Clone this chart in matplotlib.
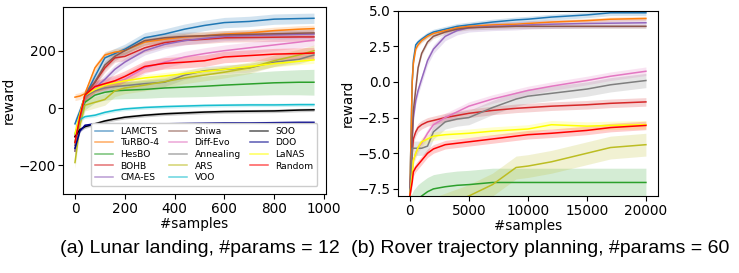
import matplotlib
matplotlib.use("Agg")
import matplotlib.pyplot as plt
import numpy as np

# ---------------- Panel (a): Lunar landing ----------------
xs_a = [0, 20, 40, 80, 120, 160, 200, 280, 360, 440, 520, 600, 700, 800, 900, 960]

names = ["LAMCTS", "TuRBO-4", "HesBO", "BOHB", "CMA-ES", "Shiwa", "Diff-Evo",
         "Annealing", "ARS", "VOO", "SOO", "DOO", "LaNAS", "Random"]
colors = ["tab:blue", "tab:orange", "tab:green", "tab:red", "tab:purple", "tab:brown",
          "tab:pink", "tab:gray", "tab:olive", "tab:cyan", "black", "darkblue",
          "yellow", "red"]

a_lamcts   = [-55, -10, 40, 110, 175, 190, 205, 245, 258, 275, 288, 298, 302, 310, 312, 313]
a_turbo    = [38, 42, 50, 140, 185, 195, 200, 230, 240, 248, 252, 258, 262, 270, 275, 277]
a_hesbo    = [-120, -30, 20, 45, 55, 60, 62, 65, 70, 73, 76, 80, 84, 88, 90, 90]
a_bohb     = [-100, -20, 45, 90, 140, 175, 180, 210, 228, 236, 240, 245, 246, 247, 248, 248]
a_cmaes    = [-150, -40, 40, 70, 100, 135, 160, 200, 222, 235, 243, 250, 253, 255, 257, 258]
a_shiwa    = [-130, -30, 45, 90, 150, 180, 200, 235, 245, 250, 252, 255, 257, 259, 261, 262]
a_diffevo  = [-150, -40, 40, 70, 80, 90, 100, 140, 160, 178, 190, 200, 210, 220, 230, 237]
a_anneal   = [-150, -40, 40, 60, 70, 75, 78, 85, 90, 115, 130, 135, 140, 160, 170, 185]
a_ars      = [-190, -60, 10, 20, 30, 60, 70, 80, 92, 105, 115, 125, 140, 165, 185, 200]
a_voo      = [-90, -40, -30, -25, -15, -8, -3, 2, 5, 7, 9, 10, 11, 11, 12, 12]
a_soo      = [-100, -75, -65, -55, -45, -38, -32, -25, -20, -17, -14, -12, -11, -10, -7, -6]
a_doo      = [-140, -80, -60, -55, -55, -55, -55, -55, -55, -54, -53, -52, -52, -51, -50, -50]
a_lanas    = [-90, -20, 45, 65, 80, 88, 95, 105, 112, 120, 128, 135, 145, 155, 163, 168]
a_random   = [-120, -30, 45, 75, 85, 95, 110, 145, 156, 160, 165, 178, 183, 188, 190, 192]

a_vals = [a_lamcts, a_turbo, a_hesbo, a_bohb, a_cmaes, a_shiwa, a_diffevo,
          a_anneal, a_ars, a_voo, a_soo, a_doo, a_lanas, a_random]
a_band = [18, 12, 25, 15, 15, 15, 20, 15, 20, 6, 6, 5, 12, 20]
a_band_grow = [0, 0, 20, 0, 0, 0, 0, 0, 0, 0, 0, 0, 0, 0]

# ---------------- Panel (b): Rover trajectory planning ----------------
xs_b = [0, 200, 300, 500, 700, 1000, 1500, 2000, 3000, 4000, 5000, 7000, 9000,
        10000, 12000, 15000, 17000, 20000]
b_lamcts  = [-8, 0.0, 1.5, 2.6, 2.8, 3.0, 3.3, 3.5, 3.7, 3.9, 4.0, 4.2, 4.35, 4.4, 4.55, 4.7, 4.85, 4.85]
b_turbo   = [-8, 0.0, 1.3, 2.3, 2.6, 2.9, 3.2, 3.4, 3.6, 3.8, 3.9, 4.0, 4.05, 4.1, 4.2, 4.3, 4.4, 4.45]
b_shiwa   = [-8, -4.0, -2.0, -0.5, 1.0, 2.0, 2.8, 3.2, 3.5, 3.7, 3.8, 3.85, 3.9, 3.9, 3.9, 3.9, 3.9, 3.9]
b_cmaes   = [-8, -4.0, -2.5, -1.3, -0.6, 0.2, 1.5, 2.3, 3.2, 3.6, 3.8, 3.9, 3.95, 4.0, 4.05, 4.1, 4.12, 4.15]
b_bohb    = [-8, -5.0, -4.0, -3.5, -3.2, -3.0, -2.8, -2.7, -2.5, -2.35, -2.2, -2.0, -1.85, -1.8, -1.7, -1.6, -1.5, -1.4]
b_diffevo = [-8, -6.5, -5.5, -5.0, -4.6, -4.3, -3.6, -3.0, -2.5, -2.1, -1.7, -1.2, -0.8, -0.6, -0.3, 0.1, 0.4, 0.75]
b_anneal  = [-8, -4.65, -4.65, -4.65, -4.65, -4.65, -4.5, -3.5, -2.8, -2.6, -2.5, -1.8, -1.2, -1.0, -0.8, -0.5, -0.2, 0.1]
b_lanas   = [-8, -6.5, -5.5, -5.0, -4.6, -4.2, -4.0, -3.8, -3.7, -3.65, -3.6, -3.45, -3.35, -3.3, -3.0, -3.1, -3.05, -3.0]
b_random  = [-8, -7.0, -6.3, -6.0, -5.8, -5.5, -5.0, -4.7, -4.4, -4.3, -4.2, -4.0, -3.8, -3.7, -3.6, -3.4, -3.2, -3.05]
b_ars     = [-9.5, -9.5, -9.5, -9.4, -9.3, -9.2, -9.0, -8.9, -8.6, -8.3, -8.0, -7.2, -6.0, -5.9, -5.6, -5.0, -4.6, -4.4]
b_hesbo   = [-9.0, -8.8, -8.6, -8.4, -8.2, -8.0, -7.7, -7.5, -7.35, -7.25, -7.2, -7.05, -7.05, -7.05, -7.05, -7.05, -7.05, -7.05]

b_series = {"LAMCTS": (b_lamcts, 0.2), "TuRBO-4": (b_turbo, 0.15), "Shiwa": (b_shiwa, 0.15),
            "CMA-ES": (b_cmaes, 0.3), "BOHB": (b_bohb, 0.3), "Diff-Evo": (b_diffevo, 0.3),
            "Annealing": (b_anneal, 0.5), "LaNAS": (b_lanas, 0.3), "Random": (b_random, 0.3),
            "ARS": (b_ars, 0.8), "HesBO": (b_hesbo, 1.0)}

FS = 9.8
fig = plt.figure(figsize=(7.39, 2.73), dpi=100)
ax1 = fig.add_axes([0.0853, 0.289, 0.3557, 0.685])
ax2 = fig.add_axes([0.5386, 0.282, 0.3514, 0.679])

xa = np.array(xs_a, dtype=float)
for name, col, vals, bw, bg in zip(names, colors, a_vals, a_band, a_band_grow):
    v = np.array(vals, dtype=float)
    band = bw + bg * xa / xa.max()
    ax1.plot(xa, v, color=col, lw=1.1, label=name)
    ax1.fill_between(xa, v - band, v + band, color=col, alpha=0.2, lw=0)

ax1.set_xlim(-48, 1008)
ax1.set_ylim(-300, 352)
ax1.set_yticks([-200, 0, 200])
ax1.set_xticks([0, 200, 400, 600, 800, 1000])
ax1.set_xlabel("#samples", fontsize=FS, labelpad=1)
ax1.set_ylabel("reward", fontsize=FS, labelpad=2)
ax1.tick_params(labelsize=FS, pad=2)
leg = ax1.legend(ncol=3, fontsize=6.6, loc="lower right", bbox_to_anchor=(0.985, 0.02),
                 handlelength=2.0, columnspacing=1.0, labelspacing=0.28,
                 borderpad=0.4, framealpha=1.0, edgecolor="#cccccc", fancybox=True)
for h in leg.legend_handles:
    h.set_alpha(0.65)

xb = np.array(xs_b, dtype=float)
for name, col in zip(names, colors):
    if name not in b_series:
        continue
    vals, bw = b_series[name]
    v = np.array(vals, dtype=float)
    ax2.plot(xb, v, color=col, lw=1.1)
    ax2.fill_between(xb, v - bw, v + bw, color=col, alpha=0.2, lw=0)

ax2.set_xlim(-1000, 21000)
ax2.set_ylim(-8, 5)
ax2.set_yticks([-7.5, -5.0, -2.5, 0.0, 2.5, 5.0])
ax2.set_xticks([0, 5000, 10000, 15000, 20000])
ax2.set_xlabel("#samples", fontsize=FS, labelpad=1)
ax2.set_ylabel("reward", fontsize=FS, labelpad=2)
ax2.tick_params(labelsize=FS, pad=2)

cap_font = ["Liberation Sans", "DejaVu Sans"]
fig.text(0.270, 0.09, "(a) Lunar landing, #params = 12", fontsize=14, ha="center", va="center",
         family=cap_font)
fig.text(0.7307, 0.09, "(b) Rover trajectory planning, #params = 60", fontsize=14, ha="center",
         va="center", family=cap_font)

fig.savefig("out.png", dpi=100)
